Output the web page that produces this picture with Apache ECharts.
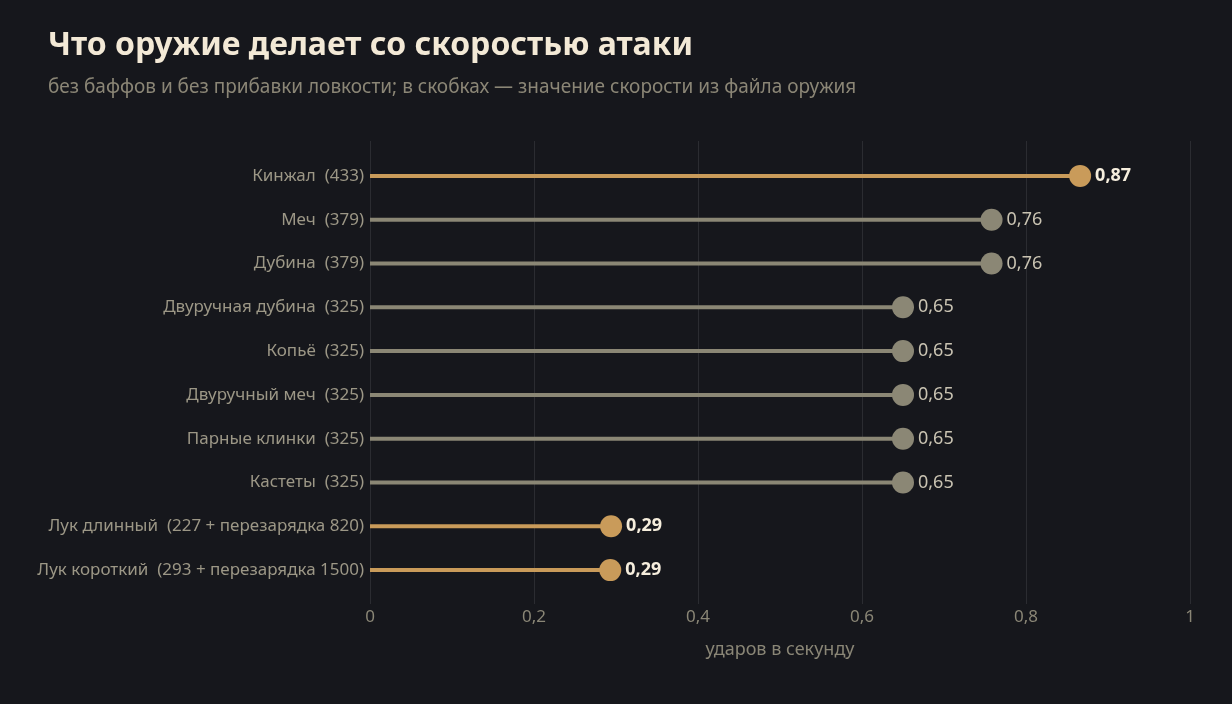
<!DOCTYPE html>
<html>
<head>
<meta charset="utf-8">
<script src="https://cdn.jsdelivr.net/npm/echarts@6/dist/echarts.min.js"></script>
<style>
  html, body { margin: 0; padding: 0; background: #16171c; }
  #chart { width: 1232px; height: 704px; }
</style>
</head>
<body>
<div id="chart"></div>
<script>
// оружие сверху вниз
const weapons = [
    'Кинжал  (433)',
    'Меч  (379)',
    'Дубина  (379)',
    'Двуручная дубина  (325)',
    'Копьё  (325)',
    'Двуручный меч  (325)',
    'Парные клинки  (325)',
    'Кастеты  (325)',
    'Лук длинный  (227 + перезарядка 820)',
    'Лук короткий  (293 + перезарядка 1500)'
];
// ударов в секунду
const hitsPerSec = [0.866, 0.758, 0.758, 0.65, 0.65, 0.65, 0.65, 0.65, 0.294, 0.293];
// выделенные золотом
const highlighted = [true, false, false, false, false, false, false, false, true, true];
const xTicks = [0, 0.2, 0.4, 0.6, 0.8, 1];

const GOLD = '#c99b5a';
const GREY = '#8b8775';
const FONT = '"Noto Sans", "Open Sans", sans-serif';

const chart = echarts.init(document.getElementById('chart'));

const colorOf = i => highlighted[i] ? GOLD : GREY;

const option = {
    backgroundColor: '#16171c',
    textStyle: { fontFamily: FONT },
    title: {
        text: 'Что оружие делает со скоростью атаки',
        subtext: 'без баффов и без прибавки ловкости; в скобках — значение скорости из файла оружия',
        left: 43,
        top: 25,
        itemGap: 16,
        textStyle: { color: '#f3e9d6', fontSize: 32, fontWeight: 'bold', fontFamily: FONT },
        subtextStyle: { color: '#8b8676', fontSize: 19, fontFamily: FONT }
    },
    // grid 0 — сетка и подписи оси X, grid 1 — сами данные
    grid: [
        { left: 370, right: 42, top: 141, bottom: 100 },
        { left: 370, right: 42, top: 154, bottom: 112 }
    ],
    xAxis: [
        {
            gridIndex: 0,
            type: 'value',
            min: xTicks[0],
            max: xTicks[xTicks.length - 1],
            interval: 0.2,
            axisLine: { show: false },
            axisTick: { show: false },
            splitLine: { lineStyle: { color: '#2b2c31', width: 1 } },
            axisLabel: {
                color: '#8a8676',
                fontSize: 17,
                margin: 5,
                formatter: v => String(+v.toFixed(1)).replace('.', ',')
            },
            name: 'ударов в секунду',
            nameLocation: 'middle',
            nameGap: 37,
            nameTextStyle: { color: '#8a8676', fontSize: 18 }
        },
        {
            gridIndex: 1,
            type: 'value',
            min: 0,
            max: 1,
            show: false
        }
    ],
    yAxis: [
        {
            gridIndex: 0,
            type: 'value',
            show: false
        },
        {
            gridIndex: 1,
            type: 'category',
            inverse: true,
            data: weapons,
            axisLine: { show: false },
            axisTick: { show: false },
            splitLine: { show: false },
            axisLabel: { color: '#9c9786', fontSize: 17, margin: 6 }
        }
    ],
    series: [
        {
            type: 'bar',
            xAxisIndex: 1,
            yAxisIndex: 1,
            barWidth: 4,
            silent: true,
            data: hitsPerSec.map((v, i) => ({ value: v, itemStyle: { color: colorOf(i) } }))
        },
        {
            type: 'scatter',
            xAxisIndex: 1,
            yAxisIndex: 1,
            symbolSize: 22,
            z: 3,
            data: hitsPerSec.map((v, i) => ({
                value: [v, i],
                itemStyle: { color: colorOf(i), opacity: 1 },
                label: {
                    show: true,
                    position: 'right',
                    distance: 4,
                    fontSize: 18,
                    fontWeight: highlighted[i] ? 'bold' : 'normal',
                    color: highlighted[i] ? '#f6eedd' : '#c9c3b2',
                    formatter: v.toFixed(2).replace('.', ',')
                }
            }))
        }
    ]
};

chart.setOption(option);
</script>
</body>
</html>
